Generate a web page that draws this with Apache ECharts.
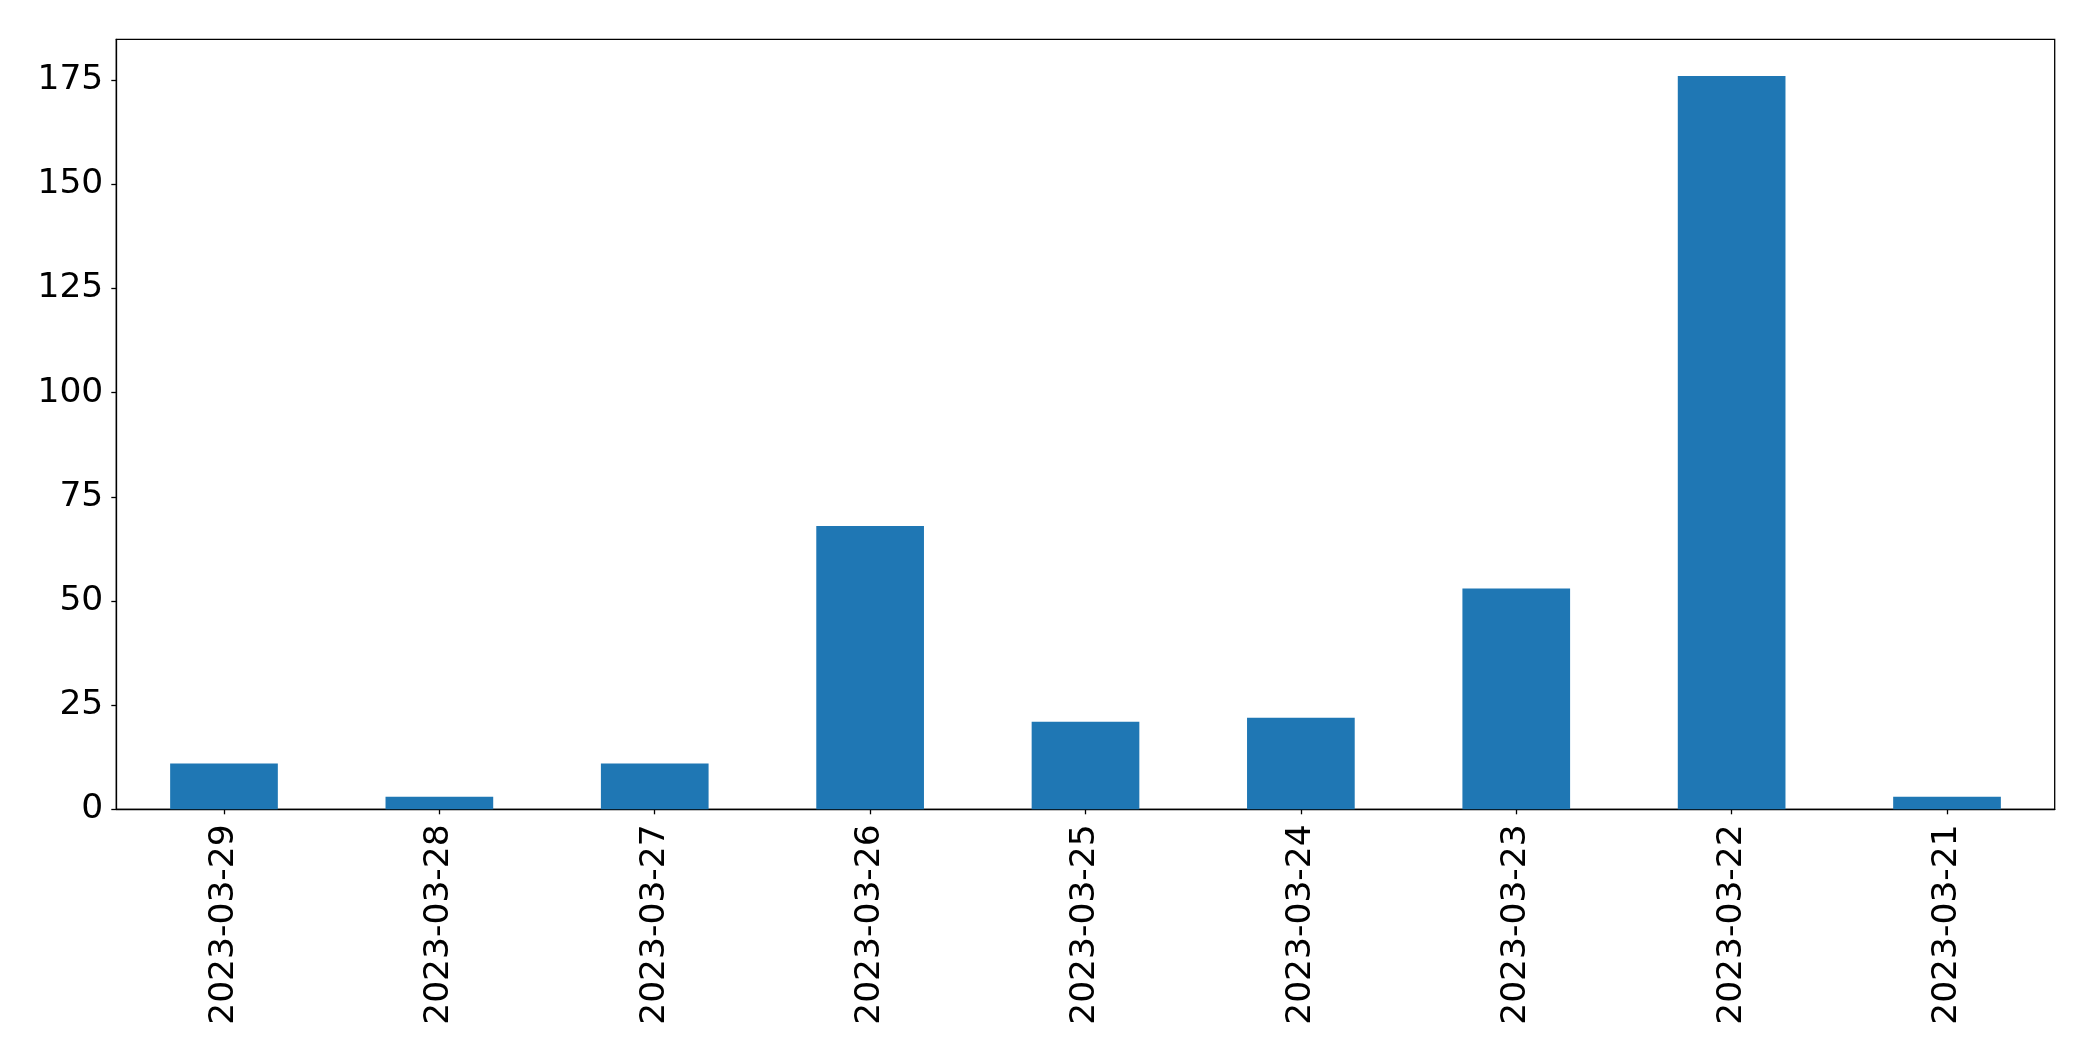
<!DOCTYPE html>
<html>
<head>
<meta charset="utf-8">
<script src="https://cdn.jsdelivr.net/npm/echarts@6/dist/echarts.min.js"></script>
<style>
html,body{margin:0;padding:0;background:#fff;}
#chart{width:2093px;height:1061px;}
</style>
</head>
<body>
<div id="chart"></div>
<script>
const categories = ["2023-03-29","2023-03-28","2023-03-27","2023-03-26","2023-03-25","2023-03-24","2023-03-23","2023-03-22","2023-03-21"];
const values = [11, 3, 11, 68, 21, 22, 53, 176, 3];
const yTicks = [0, 25, 50, 75, 100, 125, 150, 175];

const chart = echarts.init(document.getElementById('chart'), null, {renderer: 'canvas'});
const font = 'DejaVu Sans';
chart.setOption({
  animation: false,
  backgroundColor: '#ffffff',
  grid: {
    left: 116.3, right: 38.3, top: 39.3, bottom: 251.7,
    show: true, borderColor: '#000', borderWidth: 1.3, backgroundColor: 'transparent'
  },
  xAxis: {
    type: 'category',
    data: categories,
    axisLine: {show: true, lineStyle: {color: '#000', width: 1.3}},
    axisTick: {show: true, alignWithLabel: true, length: 5, lineStyle: {color: '#000', width: 1.3}},
    axisLabel: {rotate: 90, margin: 15, fontFamily: font, fontSize: 34.5, color: '#000', interval: 0},
    splitLine: {show: false}
  },
  yAxis: {
    type: 'value',
    min: 0, max: 184.8,
    axisLine: {show: true, lineStyle: {color: '#000', width: 1.3}},
    axisTick: {show: true, length: 5, lineStyle: {color: '#000', width: 1.3}, customValues: yTicks},
    axisLabel: {margin: 13, fontFamily: font, fontSize: 34.5, color: '#000', customValues: yTicks},
    splitLine: {show: false}
  },
  series: [{
    type: 'bar',
    data: values,
    barWidth: '50%',
    itemStyle: {color: '#1f77b4'}
  }]
});
</script>
</body>
</html>
